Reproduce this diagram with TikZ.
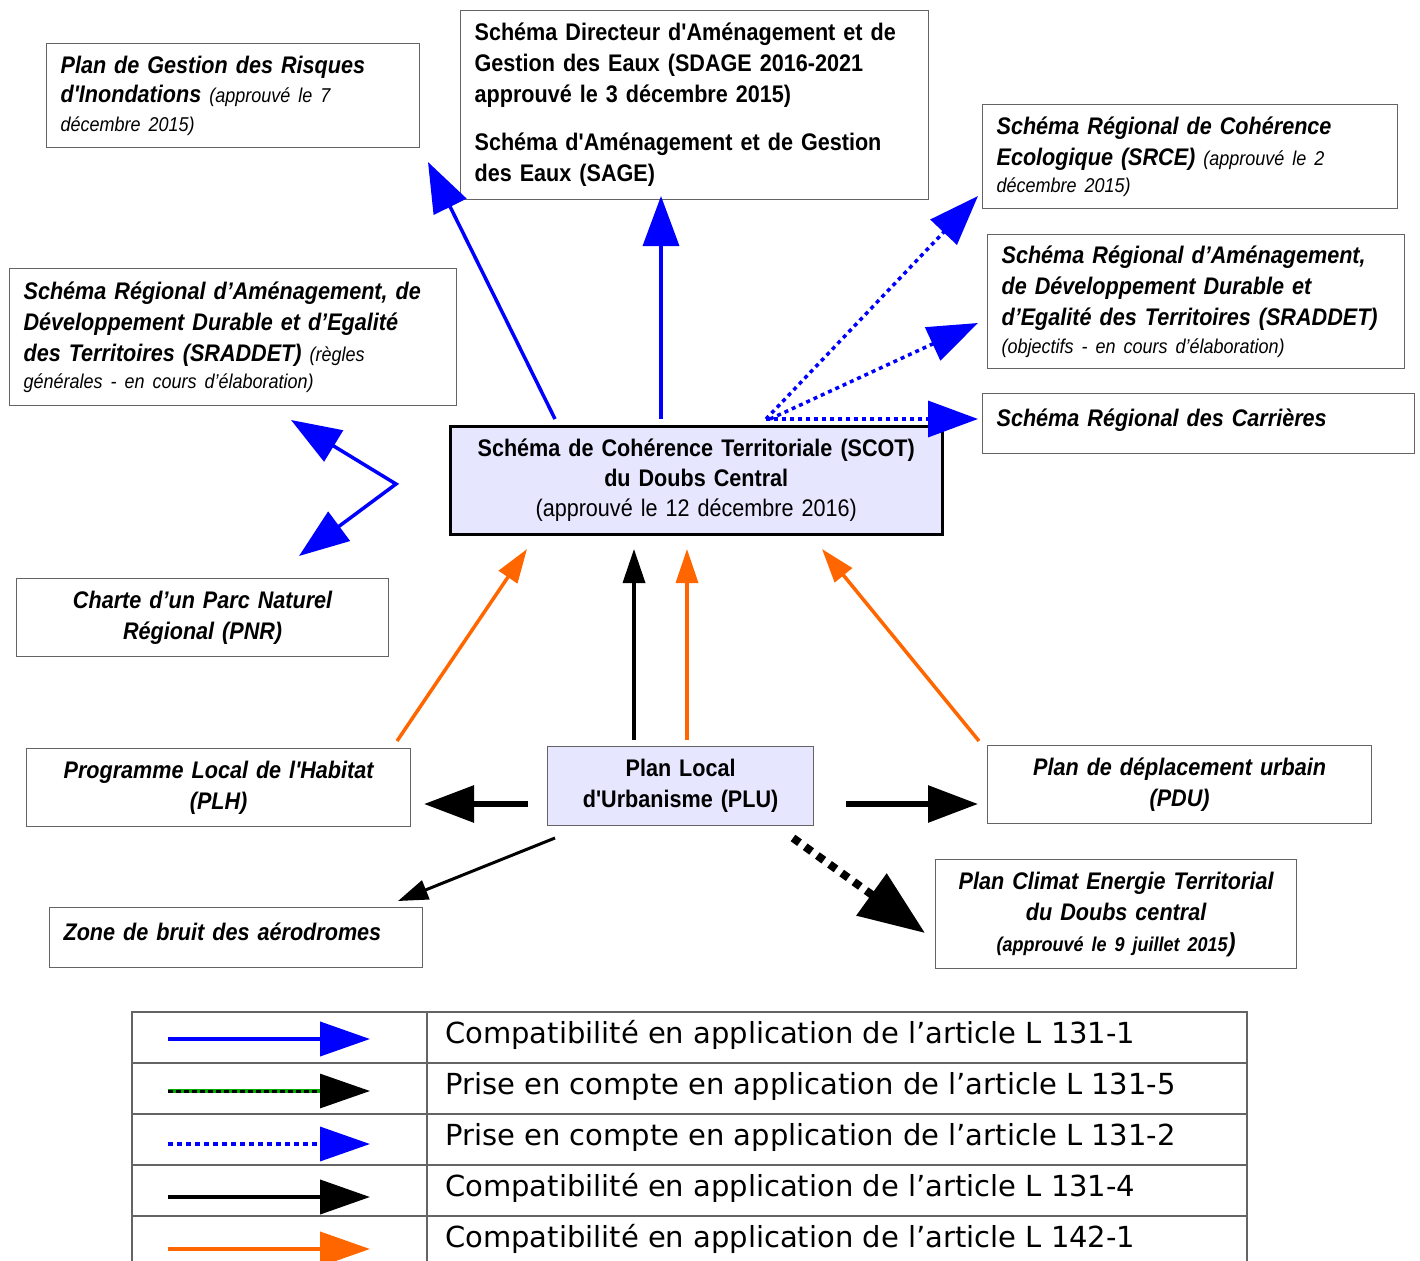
\documentclass[tikz,border=0pt]{standalone}
\usepackage{fontspec}
\setmainfont{Liberation Sans}
\newfontfamily\narrowfont[FakeStretch=0.9,WordSpace=0.8]{Liberation Sans}
\newfontfamily\legendfont{DejaVu Sans}
\usetikzlibrary{arrows.meta}
\definecolor{myblue}{RGB}{0,0,255}
\definecolor{myorange}{RGB}{255,102,0}
\definecolor{lav}{RGB}{230,230,255}
\definecolor{boxgray}{RGB}{100,100,100}
\definecolor{mygreen}{RGB}{0,170,0}
\newcommand\smallit{\mdseries\fontsize{20}{26}\selectfont}
\tikzset{
  box/.style={draw=boxgray, line width=1.2pt, fill=white, anchor=north west,
    inner xsep=14pt, inner ysep=0pt,
    font=\narrowfont\bfseries\itshape\fontsize{24}{31}\selectfont},
  boxl/.style={box, align=left},
  boxc/.style={box, align=center},
  bigtip/.style={-{Triangle[length=50pt,width=36pt]}},
  smalltip/.style={-{Triangle[length=34pt,width=22pt]}},
  bluearrow/.style={draw=myblue, line width=3.5pt, bigtip},
  bluedot/.style={draw=myblue, line width=3.5pt, dash pattern=on 4pt off 4pt, bigtip},
  orangearrow/.style={draw=myorange, line width=3.5pt, smalltip},
  blackarrow/.style={draw=black, line width=3.5pt, smalltip},
  legendtext/.style={anchor=base west, inner sep=0pt, font=\legendfont\fontsize{29}{34}\selectfont},
}
\begin{document}
\begin{tikzpicture}[x=1pt,y=-1pt]
\useasboundingbox (0,0) rectangle (1420,1260);

% boxes
\node[boxl, minimum width=373pt, minimum height=104pt, text width=345pt] (pgri) at (46,43)
 {Plan de Gestion des Risques\\[-2pt] d'Inondations {\smallit(approuvé le 7}\\[-2pt] {\smallit décembre 2015)}};
\node[boxl, minimum width=468pt, minimum height=189pt, text width=440pt, font=\narrowfont\bfseries\fontsize{24}{31}\selectfont] (sdage) at (460,10)
 {Schéma Directeur d'Aménagement et de\\ Gestion des Eaux (SDAGE 2016-2021\\ approuvé le 3 décembre 2015)\\[17pt] Schéma d'Aménagement et de Gestion\\ des Eaux (SAGE)};
\node[boxl, minimum width=415pt, minimum height=104pt, text width=387pt] (srce) at (982,104)
 {Schéma Régional de Cohérence\\ Ecologique (SRCE) {\smallit(approuvé le 2}\\[-4pt] {\smallit décembre 2015)}};
\node[boxl, minimum width=417pt, minimum height=134pt, text width=389pt] (sradr) at (987,234)
 {Schéma Régional d’Aménagement,\\ de Développement Durable et\\ d’Egalité des Territoires (SRADDET)\\[-3pt] {\smallit(objectifs - en cours d’élaboration)}};
\node[boxl, minimum width=432pt, minimum height=60pt, text width=404pt] (carr) at (982,393)
 {Schéma Régional des Carrières\\[-19pt]\mbox{}};
\node[boxl, minimum width=447pt, minimum height=137pt, text width=419pt] (sradl) at (9,268)
 {Schéma Régional d’Aménagement, de\\ Développement Durable et d’Egalité\\ des Territoires (SRADDET) {\smallit(règles}\\[-4pt] {\smallit générales - en cours d’élaboration)}};
\node[boxc, draw=black, line width=2.5pt, fill=lav, minimum width=492pt, minimum height=108pt, text width=464pt, font=\narrowfont\bfseries\fontsize{24}{30}\selectfont] (scot) at (449,425)
 {Schéma de Cohérence Territoriale (SCOT)\\ du Doubs Central\\ {\mdseries(approuvé le 12 décembre 2016)}};
\node[boxc, minimum width=372pt, minimum height=78pt, text width=344pt] (pnr) at (16,578)
 {Charte d’un Parc Naturel\\ Régional (PNR)};
\node[boxc, minimum width=384pt, minimum height=78pt, text width=356pt] (plh) at (26,748)
 {Programme Local de l'Habitat\\ (PLH)};
\node[boxc, fill=lav, minimum width=266pt, minimum height=79pt, text width=238pt, font=\narrowfont\bfseries\fontsize{24}{31}\selectfont] (plu) at (547,746)
 {Plan Local\\ d'Urbanisme (PLU)};
\node[boxc, minimum width=384pt, minimum height=78pt, text width=356pt] (pdu) at (987,745)
 {Plan de déplacement urbain\\ (PDU)};
\node[boxl, minimum width=373pt, minimum height=60pt, text width=345pt] (zone) at (49,907)
 {Zone de bruit des aérodromes\\[-19pt]\mbox{}};
\node[boxc, minimum width=361pt, minimum height=109pt, text width=333pt] (pcet) at (935,859)
 {Plan Climat Energie Territorial\\ du Doubs central\\ {\fontsize{20}{26}\selectfont(approuvé le 9 juillet 2015}{\fontsize{26}{26}\selectfont)}};

% connector end points
\coordinate (sA) at (555,419); \coordinate (tA) at (428,162);
\coordinate (sB) at (661,419); \coordinate (tB) at (661,196);
\coordinate (sC) at (766,419); \coordinate (tC) at (978,196);
\coordinate (sD) at (770,419); \coordinate (tD) at (978,323);
\coordinate (sE) at (766,419); \coordinate (tE) at (978,419);
\coordinate (tF1) at (291,420); \coordinate (jF) at (396,484); \coordinate (tF2) at (299,556);
\coordinate (sG) at (397,741); \coordinate (tG) at (527,549);
\coordinate (sH) at (634,740); \coordinate (tH) at (634,549);
\coordinate (sI) at (687,740); \coordinate (tI) at (687,549);
\coordinate (sJ) at (979,741); \coordinate (tJ) at (822,549);
\coordinate (sK) at (528,804); \coordinate (tK) at (424,804);
\coordinate (sL) at (846,804); \coordinate (tL) at (978,804);
\coordinate (sM) at (555,838); \coordinate (tM) at (398,901);
\coordinate (sN) at (793,838); \coordinate (tN) at (925,933);

% connectors
\draw[bluearrow] (sA) -- (tA);
\draw[bluearrow] (sB) -- (tB);
\draw[bluedot] (sC) -- (tC);
\draw[bluedot] (sD) -- (tD);
\draw[bluedot] (sE) -- (tE);
\draw[draw=myblue, line width=3.5pt, {Triangle[length=50pt,width=36pt]}-{Triangle[length=50pt,width=36pt]}] (tF1) -- (jF) -- (tF2);
\draw[orangearrow] (sG) -- (tG);
\draw[blackarrow] (sH) -- (tH);
\draw[orangearrow] (sI) -- (tI);
\draw[orangearrow] (sJ) -- (tJ);
\draw[draw=black, line width=6pt, bigtip] (sK) -- (tK);
\draw[draw=black, line width=6pt, bigtip] (sL) -- (tL);
\draw[draw=black, line width=3pt, -{Triangle[length=30pt,width=20pt]}] (sM) -- (tM);
\draw[draw=black, line width=8pt, dash pattern=on 8pt off 7pt, -{Triangle[length=66pt,width=50pt]}] (sN) -- (tN);

% legend table
\draw[boxgray, line width=1.2pt] (132,1270) -- (132,1012) -- (1247,1012) -- (1247,1270);
\foreach \yy in {1063,1114,1165,1216} \draw[boxgray, line width=1.2pt] (132,\yy) -- (1247,\yy);
\draw[boxgray, line width=1.2pt] (427,1012) -- (427,1270);

\coordinate (l1s) at (168,1039); \coordinate (l1t) at (370,1039);
\coordinate (l2s) at (168,1091); \coordinate (l2m) at (322,1091); \coordinate (l2t) at (370,1091);
\coordinate (l3s) at (168,1144); \coordinate (l3t) at (370,1144);
\coordinate (l4s) at (168,1197); \coordinate (l4t) at (370,1197);
\coordinate (l5s) at (168,1249); \coordinate (l5t) at (370,1249);
\draw[draw=myblue, line width=4pt, -{Triangle[length=50pt,width=34pt]}] (l1s) -- (l1t);
\draw[draw=mygreen, line width=4.5pt] (l2s) -- (l2m);
\draw[draw=black, line width=3pt, dash pattern=on 5pt off 3pt, -{Triangle[length=50pt,width=34pt]}] (l2s) -- (l2t);
\draw[draw=myblue, line width=3.5pt, dash pattern=on 5pt off 4pt, -{Triangle[length=50pt,width=34pt]}] (l3s) -- (l3t);
\draw[draw=black, line width=4pt, -{Triangle[length=50pt,width=34pt]}] (l4s) -- (l4t);
\draw[draw=myorange, line width=4pt, -{Triangle[length=50pt,width=34pt]}] (l5s) -- (l5t);

\node[legendtext] (lt1) at (445,1043) {Compatibilité en application de l’article L 131-1};
\node[legendtext] (lt2) at (445,1094) {Prise en compte en application de l’article L 131-5};
\node[legendtext] (lt3) at (445,1145) {Prise en compte en application de l’article L 131-2};
\node[legendtext] (lt4) at (445,1196) {Compatibilité en application de l’article L 131-4};
\node[legendtext] (lt5) at (445,1247) {Compatibilité en application de l’article L 142-1};
\end{tikzpicture}
\end{document}
